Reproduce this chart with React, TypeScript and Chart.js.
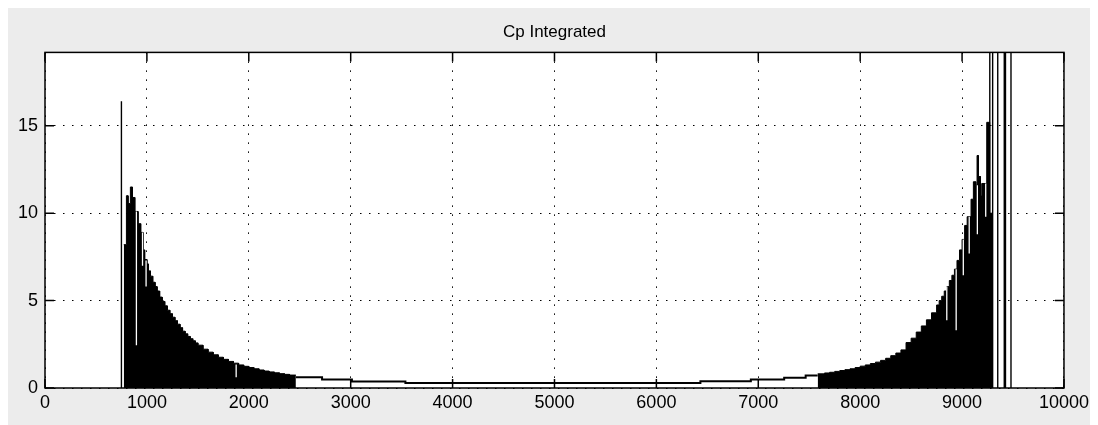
import React, { useEffect, useRef } from 'react';
import { Chart, registerables } from 'chart.js';

Chart.register(...registerables);

const TITLE = 'Cp Integrated';
const X_TICKS = [0, 1000, 2000, 3000, 4000, 5000, 6000, 7000, 8000, 9000, 10000];
const Y_TICKS = [0, 5, 10, 15];
const Y_MAX = 19.2;

// dense left block (step values, each holds until next x)
const LEFT_X = [773, 799, 815, 838, 858, 881, 913, 939, 962, 978, 1000, 1014, 1035, 1057, 1080, 1100, 1125, 1150, 1175, 1200, 1225, 1250, 1275, 1300, 1325, 1350, 1375, 1400, 1425, 1450, 1475, 1500, 1550, 1600, 1650, 1700, 1750, 1800, 1850, 1900, 1950, 2000, 2050, 2100, 2150, 2200, 2250, 2300, 2350, 2400, 2462];
const LEFT_Y = [8.2, 11.0, 10.55, 11.5, 10.9, 10.1, 9.4, 8.9, 7.9, 7.35, 7.1, 6.7, 6.4, 6.05, 5.8, 5.55, 5.2, 4.95, 4.7, 4.45, 4.25, 4.05, 3.85, 3.65, 3.45, 3.25, 3.1, 2.95, 2.82, 2.7, 2.58, 2.45, 2.22, 2.05, 1.9, 1.76, 1.64, 1.52, 1.42, 1.32, 1.24, 1.17, 1.1, 1.03, 0.97, 0.92, 0.87, 0.82, 0.78, 0.74, 0.74];

// low middle part (outline only)
const MID_X = [2462, 2719, 3012, 3537, 6432, 6927, 7254, 7465, 7583];
const MID_Y = [0.62, 0.49, 0.37, 0.28, 0.39, 0.49, 0.58, 0.72, 0.72];

// dense right block
const RIGHT_X = [7583, 7650, 7700, 7750, 7800, 7850, 7900, 7950, 8000, 8050, 8100, 8150, 8200, 8250, 8300, 8350, 8400, 8450, 8500, 8550, 8600, 8650, 8700, 8750, 8775, 8800, 8825, 8850, 8875, 8900, 8925, 8950, 8975, 9000, 9025, 9050, 9088, 9111, 9134, 9147, 9160, 9180, 9193, 9242, 9270, 9297];
const RIGHT_Y = [0.81, 0.86, 0.9, 0.95, 1.0, 1.05, 1.1, 1.17, 1.25, 1.32, 1.4, 1.48, 1.58, 1.7, 1.85, 2.0, 2.18, 2.6, 2.85, 3.2, 3.55, 3.9, 4.3, 4.75, 5.0, 5.25, 5.55, 5.8, 6.15, 6.45, 6.8, 7.3, 7.9, 8.5, 9.3, 9.8, 10.8, 11.8, 11.6, 13.3, 12.1, 11.0, 11.7, 15.2, 10.0, 10.0];

// narrow low bins inside the dense blocks (white gaps)
const GAP_X = [897, 957, 992, 1876, 8850, 8942, 9012, 9070, 9150, 9232];
const GAP_LO = [2.44, 7.0, 5.8, 0.62, 3.87, 3.3, 6.45, 7.7, 8.8, 9.8];
const GAP_HI = [10.1, 8.9, 7.3, 1.35, 5.8, 6.8, 8.5, 9.8, 11.6, 11.7];

// isolated tall bins
const SPIKE_X = [750, 9272, 9300, 9350, 9480];
const SPIKE_Y = [16.4, 25, 25, 25, 25];
const THICK_X = [9420];
const THICK_Y = [25];

const FONT = "'Liberation Sans', Arial, sans-serif";

// staircase: each value holds from its x to the next x
const stairs = (xs: number[], ys: number[]) =>
  xs.flatMap((x, i) => (i === 0 ? [{ x, y: ys[0] }] : [{ x, y: ys[i - 1] }, { x, y: ys[i] }]));
const vlines = (xs: number[], lo: number[], hi: number[]) =>
  xs.flatMap((x, i) => [{ x, y: lo[i] }, { x, y: hi[i] }, { x, y: null as any }]);
const zeros = (n: number) => new Array(n).fill(0);

const framePlugin = {
  id: 'matlabFrame',
  beforeDraw(chart: any) {
    const { ctx, chartArea: a } = chart;
    ctx.save();
    ctx.fillStyle = '#ffffff';
    ctx.fillRect(a.left, a.top, a.right - a.left, a.bottom - a.top);
    ctx.restore();
  },
  afterDatasetsDraw(chart: any) {
    const { ctx, chartArea: a, scales } = chart;
    const tl = 9;
    ctx.save();
    ctx.strokeStyle = '#000';
    ctx.lineWidth = 1.5;
    ctx.beginPath();
    for (const v of X_TICKS) {
      const px = scales.x.getPixelForValue(v);
      ctx.moveTo(px, a.bottom);
      ctx.lineTo(px, a.bottom - tl);
      ctx.moveTo(px, a.top);
      ctx.lineTo(px, a.top + tl);
    }
    for (const v of Y_TICKS) {
      const py = scales.y.getPixelForValue(v);
      ctx.moveTo(a.left, py);
      ctx.lineTo(a.left + tl, py);
      ctx.moveTo(a.right, py);
      ctx.lineTo(a.right - tl, py);
    }
    ctx.stroke();
    ctx.strokeRect(a.left, a.top, a.right - a.left, a.bottom - a.top);
    ctx.restore();
  },
};

export default function App() {
  const ref = useRef<HTMLCanvasElement>(null);

  useEffect(() => {
    if (!ref.current) return;
    const chart = new Chart(ref.current, {
      type: 'line',
      data: {
        datasets: [
          {
            label: 'gaps',
            data: vlines(GAP_X, GAP_LO, GAP_HI),
            borderColor: '#ffffff',
            borderWidth: 1.3,
            pointRadius: 0,
            spanGaps: false,
            fill: false,
            order: 0,
          },
          {
            label: 'spikes',
            data: vlines(SPIKE_X, zeros(SPIKE_X.length), SPIKE_Y),
            borderColor: '#000',
            borderWidth: 1.4,
            pointRadius: 0,
            spanGaps: false,
            fill: false,
            order: 1,
          },
          {
            label: 'thick',
            data: vlines(THICK_X, zeros(THICK_X.length), THICK_Y),
            borderColor: '#000',
            borderWidth: 2.6,
            pointRadius: 0,
            spanGaps: false,
            fill: false,
            order: 1,
          },
          {
            label: 'left',
            data: stairs(LEFT_X, LEFT_Y),
            fill: 'origin',
            tension: 0,
            backgroundColor: '#000',
            borderColor: '#000',
            borderWidth: 1,
            pointRadius: 0,
            order: 2,
          },
          {
            label: 'right',
            data: stairs(RIGHT_X, RIGHT_Y),
            fill: 'origin',
            tension: 0,
            backgroundColor: '#000',
            borderColor: '#000',
            borderWidth: 1,
            pointRadius: 0,
            order: 2,
          },
          {
            label: 'middle',
            data: stairs(MID_X, MID_Y),
            fill: false,
            tension: 0,
            borderColor: '#000',
            borderWidth: 2,
            pointRadius: 0,
            order: 3,
          },
        ] as any,
      },
      options: {
        animation: false,
        responsive: false,
        devicePixelRatio: 1,
        layout: { padding: { top: 0, left: 0, right: 26, bottom: 0 } },
        plugins: {
          legend: { display: false },
          tooltip: { enabled: false },
          title: {
            display: true,
            text: TITLE,
            color: '#000',
            fullSize: false,
            font: { family: FONT, size: 17, weight: 'normal' as any, lineHeight: 1.2 },
            padding: { top: 14, bottom: 10 },
          },
        },
        scales: {
          x: {
            type: 'linear',
            min: 0,
            max: 10000,
            offset: false,
            afterFit: (s: any) => {
              s.height = 37;
            },
            afterBuildTicks: (s: any) => {
              s.ticks = X_TICKS.map((v) => ({ value: v }));
            },
            ticks: {
              autoSkip: false,
              maxRotation: 0,
              color: '#000',
              padding: 4,
              font: { family: FONT, size: 18 },
              callback: (v: any) => String(v),
            },
            grid: { color: '#000', lineWidth: 1, drawTicks: false, offset: false },
            border: { display: false, dash: [1.5, 7.5] },
          },
          y: {
            type: 'linear',
            min: 0,
            max: Y_MAX,
            afterFit: (s: any) => {
              s.width = 37;
            },
            afterBuildTicks: (s: any) => {
              s.ticks = Y_TICKS.map((v) => ({ value: v }));
            },
            ticks: {
              autoSkip: false,
              color: '#000',
              padding: 7,
              font: { family: FONT, size: 18 },
              callback: (v: any) => String(v),
            },
            grid: { color: '#000', lineWidth: 1, drawTicks: false },
            border: { display: false, dash: [1.5, 7.5] },
          },
        },
      },
      plugins: [framePlugin],
    });
    return () => chart.destroy();
  }, []);

  return (
    <div style={{ width: 1085, height: 417, background: '#ececec' }}>
      <canvas ref={ref} width={1085} height={417} />
    </div>
  );
}
